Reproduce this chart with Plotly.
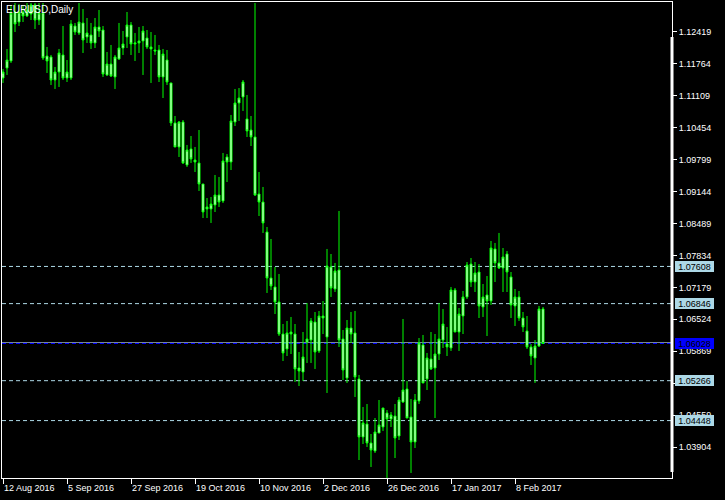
import plotly.graph_objects as go

# ---- data (EURUSD daily) ----
opens = [1.11471, 1.11676, 1.11820, 1.12824, 1.12619, 1.12824, 1.12742, 1.12783, 1.12968, 1.12660,
         1.12804, 1.11922, 1.11902, 1.11430, 1.11594, 1.11943, 1.11471, 1.11471, 1.12537, 1.12394,
         1.12599, 1.12312, 1.12353, 1.12189, 1.12517, 1.12455, 1.11533, 1.11758, 1.11492, 1.11861,
         1.12086, 1.12312, 1.12558, 1.12168, 1.12189, 1.12230, 1.12291, 1.12107, 1.12045, 1.12045,
         1.11492, 1.11840, 1.11369, 1.10549, 1.10057, 1.10569, 1.09688, 1.10016, 1.09790, 1.09729,
         1.09298, 1.08786, 1.08786, 1.08868, 1.09073, 1.08950, 1.09852, 1.09749, 1.10569, 1.10959,
         1.11082, 1.10631, 1.10405, 1.10262, 1.09093, 1.08929, 1.08314, 1.07371, 1.07187, 1.06879,
         1.06223, 1.05916, 1.06264, 1.06223, 1.05526, 1.05444, 1.06059, 1.06100, 1.06469, 1.05875,
         1.06592, 1.06162, 1.07597, 1.07146, 1.07535, 1.06121, 1.05321, 1.06346, 1.06244, 1.05301,
         1.04112, 1.04378, 1.03989, 1.03825, 1.04194, 1.04317, 1.04604, 1.04481, 1.04542, 1.04132,
         1.04829, 1.05096, 1.04522, 1.04009, 1.04850, 1.05998, 1.05301, 1.05711, 1.05526, 1.05813,
         1.06100, 1.06018, 1.05936, 1.07125, 1.06264, 1.06592, 1.06982, 1.07658, 1.07289, 1.07494,
         1.06777, 1.07023, 1.06900, 1.07966, 1.07679, 1.07576, 1.07863, 1.07392, 1.06797, 1.06982,
         1.06551, 1.06285, 1.05957, 1.05731, 1.05977, 1.06736]
highs = [1.11656, 1.12066, 1.12968, 1.13009, 1.12988, 1.12968, 1.13009, 1.13009, 1.13009, 1.13009,
         1.13009, 1.12107, 1.11943, 1.11697, 1.12066, 1.12537, 1.11840, 1.12660, 1.12599, 1.13009,
         1.12886, 1.12701, 1.12599, 1.12701, 1.12865, 1.12537, 1.12004, 1.12148, 1.11943, 1.12599,
         1.12435, 1.12824, 1.12619, 1.12394, 1.12517, 1.12537, 1.12455, 1.12414, 1.12353, 1.12148,
         1.12066, 1.12045, 1.11369, 1.10692, 1.10590, 1.10610, 1.10098, 1.10282, 1.10057, 1.10405,
         1.09298, 1.09011, 1.09032, 1.09483, 1.09442, 1.09934, 1.09913, 1.10713, 1.11246, 1.11266,
         1.11430, 1.11123, 1.10692, 1.13009, 1.09544, 1.09237, 1.08417, 1.08171, 1.07597, 1.07453,
         1.06428, 1.06490, 1.06572, 1.06428, 1.05854, 1.06264, 1.06859, 1.06551, 1.06674, 1.06695,
         1.06900, 1.07966, 1.07863, 1.07679, 1.08745, 1.06305, 1.06510, 1.06674, 1.06695, 1.05383,
         1.04727, 1.04788, 1.04173, 1.04501, 1.04870, 1.04706, 1.04665, 1.04624, 1.04788, 1.04932,
         1.06531, 1.05260, 1.04891, 1.04993, 1.06141, 1.06203, 1.05834, 1.06264, 1.06223, 1.06859,
         1.06736, 1.06367, 1.07187, 1.07166, 1.06756, 1.07105, 1.07699, 1.07781, 1.07699, 1.07658,
         1.07248, 1.07412, 1.08130, 1.08089, 1.08294, 1.07986, 1.07925, 1.07494, 1.07146, 1.07105,
         1.06674, 1.06592, 1.06018, 1.06100, 1.06797, 1.06777]
lows = [1.11369, 1.11533, 1.11779, 1.12414, 1.12537, 1.12619, 1.12722, 1.12660, 1.12476, 1.12558,
        1.11840, 1.11574, 1.11328, 1.11246, 1.11287, 1.11430, 1.11389, 1.11430, 1.12353, 1.12353,
        1.11984, 1.12189, 1.12066, 1.12086, 1.12312, 1.11492, 1.11512, 1.11492, 1.11246, 1.11840,
        1.11943, 1.12086, 1.11943, 1.11820, 1.11984, 1.11533, 1.12066, 1.11369, 1.11943, 1.11389,
        1.11061, 1.11328, 1.10487, 1.10057, 1.09852, 1.09708, 1.09647, 1.09729, 1.09544, 1.09155,
        1.08601, 1.08601, 1.08499, 1.08724, 1.08827, 1.08909, 1.09339, 1.09585, 1.10487, 1.10590,
        1.10795, 1.10262, 1.10077, 1.09052, 1.08642, 1.08294, 1.07064, 1.07125, 1.06633, 1.06182,
        1.05670, 1.05772, 1.05813, 1.05239, 1.05157, 1.05260, 1.05629, 1.05629, 1.05506, 1.05834,
        1.06223, 1.05014, 1.06982, 1.07084, 1.05957, 1.05280, 1.05219, 1.06039, 1.04932, 1.03640,
        1.03968, 1.03907, 1.03497, 1.03784, 1.04194, 1.04235, 1.03271, 1.04317, 1.03681, 1.04050,
        1.04809, 1.04501, 1.03374, 1.03886, 1.04788, 1.05219, 1.05075, 1.05485, 1.04501, 1.05690,
        1.05936, 1.05772, 1.05875, 1.06264, 1.05875, 1.06223, 1.06941, 1.07187, 1.07084, 1.06551,
        1.06572, 1.06182, 1.06818, 1.07289, 1.07556, 1.07084, 1.07084, 1.06551, 1.06387, 1.06490,
        1.06264, 1.05916, 1.05588, 1.05219, 1.05957, 1.06020]
closes = [1.11594, 1.11840, 1.12804, 1.12578, 1.12824, 1.12742, 1.12865, 1.12968, 1.12660, 1.12804,
          1.11881, 1.11820, 1.11430, 1.11594, 1.11984, 1.11471, 1.11594, 1.12578, 1.12414, 1.12619,
          1.12250, 1.12394, 1.12189, 1.12517, 1.12435, 1.11553, 1.11758, 1.11512, 1.11902, 1.12086,
          1.12168, 1.12558, 1.12168, 1.12189, 1.12230, 1.12435, 1.12107, 1.12066, 1.12025, 1.11492,
          1.11963, 1.11389, 1.10549, 1.10057, 1.10569, 1.09729, 1.09995, 1.09811, 1.09749, 1.09298,
          1.08724, 1.08827, 1.08888, 1.09073, 1.08929, 1.09770, 1.09749, 1.10590, 1.10959, 1.11061,
          1.11389, 1.10385, 1.10262, 1.09073, 1.08929, 1.08499, 1.07371, 1.07207, 1.06879, 1.06223,
          1.05834, 1.06244, 1.06223, 1.05506, 1.05465, 1.05752, 1.06121, 1.06490, 1.05854, 1.06592,
          1.06551, 1.07617, 1.07166, 1.07515, 1.06100, 1.05485, 1.06346, 1.06223, 1.05342, 1.04112,
          1.04399, 1.03989, 1.03845, 1.04214, 1.04358, 1.04706, 1.04481, 1.04563, 1.04091, 1.04870,
          1.05075, 1.04501, 1.04009, 1.04870, 1.06039, 1.05219, 1.05731, 1.05506, 1.05813, 1.06121,
          1.06428, 1.05957, 1.07125, 1.06264, 1.06633, 1.06982, 1.07638, 1.07289, 1.07474, 1.06797,
          1.06982, 1.06900, 1.07986, 1.07679, 1.07576, 1.07802, 1.07494, 1.06818, 1.06982, 1.06551,
          1.06367, 1.05957, 1.05772, 1.05977, 1.06736, 1.06028]
bar_index = list(range(len(opens)))

date_tick_index = [0, 16, 32, 48, 64, 80, 96, 112, 128]
date_tick_labels = ["12 Aug 2016", "5 Sep 2016", "27 Sep 2016", "19 Oct 2016", "10 Nov 2016",
                    "2 Dec 2016", "26 Dec 2016", "17 Jan 2017", "8 Feb 2017"]

price_ticks = [1.03904, 1.04559, 1.05214, 1.05869, 1.06524, 1.07179, 1.07834,
               1.08489, 1.09144, 1.09799, 1.10454, 1.11109, 1.11764, 1.12419]
price_tick_labels = ["1.03904", "1.04559", "1.05214", "1.05869", "1.06524", "1.07179", "1.07834",
                     "1.08489", "1.09144", "1.09799", "1.10454", "1.11109", "1.11764", "1.12419"]

level_prices = [1.07608, 1.06846, 1.05266, 1.04448]
level_labels = ["1.07608", "1.06846", "1.05266", "1.04448"]
bid_price = 1.06028
bid_label = "1.06028"

price_range = [1.03271, 1.13029]
x_range = [-0.25, 167.25]

FONT = "Liberation Sans, Arial, sans-serif"
GREEN = "#00FF00"
LEVEL_COLOR = "#ADD8E6"

fig = go.Figure()
fig.add_trace(go.Candlestick(
    x=bar_index, open=opens, high=highs, low=lows, close=closes,
    increasing=dict(line=dict(color=GREEN, width=1), fillcolor="#FFFFFF"),
    decreasing=dict(line=dict(color=GREEN, width=1), fillcolor="#FFFFFF"),
    whiskerwidth=0, hoverinfo="skip", showlegend=False,
))

shapes = []
for p in level_prices:
    shapes.append(dict(type="line", xref="paper", x0=0, x1=1, yref="y", y0=p, y1=p,
                       line=dict(color=LEVEL_COLOR, width=1, dash="4px,3px"), layer="below"))
shapes.append(dict(type="line", xref="paper", x0=0, x1=1, yref="y", y0=bid_price, y1=bid_price,
                   line=dict(color="#0000FF", width=1, dash="4px,3px"), layer="below"))
shapes.append(dict(type="line", xref="paper", x0=0, x1=1, yref="y", ysizemode="pixel",
                   yanchor=bid_price, y0=1, y1=1,
                   line=dict(color="#778899", width=1), layer="below"))
# thick right scale edge
shapes.append(dict(type="line", xref="paper", x0=1, x1=1, yref="paper", y0=0.0126, y1=0.9265,
                   line=dict(color="#FFFFFF", width=3)))

annotations = []
annotations.append(dict(text="EURUSD,Daily", xref="paper", yref="paper", x=0, y=1,
                        xanchor="left", yanchor="top", xshift=3, yshift=-1, showarrow=False,
                        borderpad=0,
                        font=dict(family=FONT, size=10, color="#FFFFFF")))
for i, lab in zip(date_tick_index, date_tick_labels):
    annotations.append(dict(text=lab, xref="x", yref="paper", x=i, y=0, xanchor="left",
                            yanchor="top", yshift=-4, xshift=0, showarrow=False, borderpad=0,
                            font=dict(family=FONT, size=9, color="#FFFFFF")))
for p, lab in zip(level_prices, level_labels):
    annotations.append(dict(text=lab, xref="paper", yref="y", x=1, y=p, xanchor="left",
                            yanchor="middle", xshift=3, showarrow=False, bgcolor=LEVEL_COLOR,
                            borderpad=0, borderwidth=0, width=39, height=11,
                            font=dict(family=FONT, size=9, color="#000000")))
annotations.append(dict(text=bid_label, xref="paper", yref="y", x=1, y=bid_price, xanchor="left",
                        yanchor="middle", xshift=3, showarrow=False, bgcolor="#0000FF",
                        borderwidth=0, borderpad=0, width=39, height=11,
                        font=dict(family=FONT, size=9, color="#000000")))

fig.update_layout(
    width=725, height=500,
    margin=dict(l=2, r=53, t=2, b=22),
    paper_bgcolor="#000000", plot_bgcolor="#000000",
    boxgap=0.5, boxgroupgap=0,
    shapes=shapes, annotations=annotations,
    hovermode=False,
    xaxis=dict(range=x_range, rangeslider=dict(visible=False), showgrid=False, zeroline=False,
               tickmode="array", tickvals=date_tick_index, showticklabels=False,
               ticks="outside", ticklen=5, tickcolor="#FFFFFF", tickwidth=1,
               showline=True, linecolor="#FFFFFF", linewidth=1, mirror=True),
    yaxis=dict(range=price_range, side="right", showgrid=False, zeroline=False,
               tickmode="array", tickvals=price_ticks, ticktext=price_tick_labels,
               ticks="outside", ticklen=4, tickcolor="#FFFFFF", tickwidth=1,
               tickfont=dict(family=FONT, size=9, color="#FFFFFF"),
               showline=True, linecolor="#FFFFFF", linewidth=1, mirror=True),
)

fig.write_html(
    "out.html",
    config={"displayModeBar": False, "staticPlot": True},
    post_script="document.body.style.margin='0';document.body.style.background='#000';",
)
